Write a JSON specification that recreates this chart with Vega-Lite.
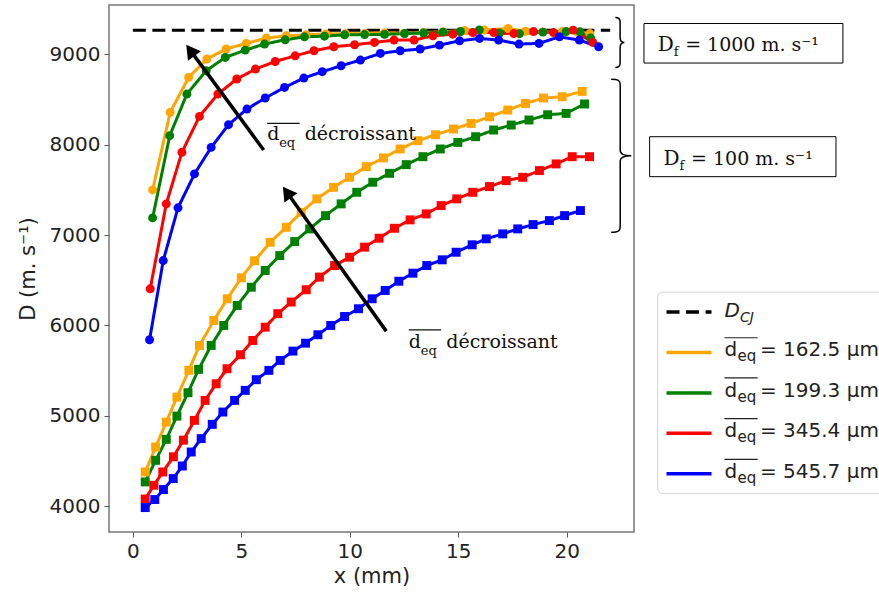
{
"$schema": "https://vega.github.io/schema/vega-lite/v6.json",
"width": 525, "height": 527,
"autosize": {"type": "none"},
"padding": {"left": 109, "top": 5, "right": 245, "bottom": 60},
"background": "white",
"config": {
  "view": {"stroke": "#777", "strokeWidth": 1.5},
  "axis": {"labelFont": "DejaVu Sans", "titleFont": "DejaVu Sans", "labelFontSize": 20, "titleFontSize": 21, "labelColor": "#222", "titleColor": "#222", "titleFontWeight": "normal", "gridColor": "#cccccc", "gridWidth": 1, "tickColor": "#555", "tickSize": 5, "domain": false, "labelPadding": 4}
},
"datasets": {
  "main": [
    {"s":"DCJ","f":"CJ","x":0,"D":9265},{"s":"DCJ","f":"CJ","x":22,"D":9265},
    {"s":"162.5","f":"1000","x":0.91,"D":7499},{"s":"162.5","f":"1000","x":1.72,"D":8357},{"s":"162.5","f":"1000","x":2.57,"D":8744},{"s":"162.5","f":"1000","x":3.41,"D":8947},{"s":"162.5","f":"1000","x":4.30,"D":9058},{"s":"162.5","f":"1000","x":5.23,"D":9120},{"s":"162.5","f":"1000","x":6.15,"D":9179},{"s":"162.5","f":"1000","x":7.07,"D":9204},{"s":"162.5","f":"1000","x":7.99,"D":9215},{"s":"162.5","f":"1000","x":8.90,"D":9225},{"s":"162.5","f":"1000","x":9.80,"D":9228},{"s":"162.5","f":"1000","x":10.70,"D":9232},{"s":"162.5","f":"1000","x":11.60,"D":9236},{"s":"162.5","f":"1000","x":12.50,"D":9232},{"s":"162.5","f":"1000","x":13.40,"D":9240},{"s":"162.5","f":"1000","x":14.30,"D":9250},{"s":"162.5","f":"1000","x":15.30,"D":9262},{"s":"162.5","f":"1000","x":16.20,"D":9268},{"s":"162.5","f":"1000","x":17.30,"D":9285},{"s":"162.5","f":"1000","x":18.10,"D":9255},{"s":"162.5","f":"1000","x":18.90,"D":9248},{"s":"162.5","f":"1000","x":19.80,"D":9252},{"s":"162.5","f":"1000","x":20.50,"D":9245},{"s":"162.5","f":"1000","x":21.06,"D":9229},
    {"s":"199.3","f":"1000","x":0.91,"D":7190},{"s":"199.3","f":"1000","x":1.70,"D":8099},{"s":"199.3","f":"1000","x":2.49,"D":8560},{"s":"199.3","f":"1000","x":3.38,"D":8818},{"s":"199.3","f":"1000","x":4.26,"D":8965},{"s":"199.3","f":"1000","x":5.18,"D":9046},{"s":"199.3","f":"1000","x":6.07,"D":9113},{"s":"199.3","f":"1000","x":7.02,"D":9160},{"s":"199.3","f":"1000","x":7.91,"D":9193},{"s":"199.3","f":"1000","x":8.83,"D":9200},{"s":"199.3","f":"1000","x":9.76,"D":9215},{"s":"199.3","f":"1000","x":10.68,"D":9218},{"s":"199.3","f":"1000","x":11.60,"D":9220},{"s":"199.3","f":"1000","x":12.52,"D":9229},{"s":"199.3","f":"1000","x":13.40,"D":9235},{"s":"199.3","f":"1000","x":14.30,"D":9245},{"s":"199.3","f":"1000","x":15.10,"D":9252},{"s":"199.3","f":"1000","x":15.97,"D":9270},{"s":"199.3","f":"1000","x":16.90,"D":9235},{"s":"199.3","f":"1000","x":17.82,"D":9228},{"s":"199.3","f":"1000","x":18.90,"D":9245},{"s":"199.3","f":"1000","x":19.97,"D":9251},{"s":"199.3","f":"1000","x":20.60,"D":9250},{"s":"199.3","f":"1000","x":21.10,"D":9180},
    {"s":"345.4","f":"1000","x":0.80,"D":6405},{"s":"345.4","f":"1000","x":1.54,"D":7345},{"s":"345.4","f":"1000","x":2.26,"D":7915},{"s":"345.4","f":"1000","x":3.07,"D":8313},{"s":"345.4","f":"1000","x":3.92,"D":8560},{"s":"345.4","f":"1000","x":4.79,"D":8726},{"s":"345.4","f":"1000","x":5.65,"D":8836},{"s":"345.4","f":"1000","x":6.56,"D":8920},{"s":"345.4","f":"1000","x":7.48,"D":8983},{"s":"345.4","f":"1000","x":8.35,"D":9039},{"s":"345.4","f":"1000","x":9.26,"D":9083},{"s":"345.4","f":"1000","x":10.22,"D":9105},{"s":"345.4","f":"1000","x":11.14,"D":9131},{"s":"345.4","f":"1000","x":12.04,"D":9157},{"s":"345.4","f":"1000","x":12.96,"D":9157},{"s":"345.4","f":"1000","x":13.83,"D":9204},{"s":"345.4","f":"1000","x":14.75,"D":9222},{"s":"345.4","f":"1000","x":15.67,"D":9240},{"s":"345.4","f":"1000","x":16.64,"D":9240},{"s":"345.4","f":"1000","x":17.56,"D":9229},{"s":"345.4","f":"1000","x":18.47,"D":9251},{"s":"345.4","f":"1000","x":19.39,"D":9240},{"s":"345.4","f":"1000","x":20.29,"D":9267},{"s":"345.4","f":"1000","x":21.20,"D":9131},
    {"s":"545.7","f":"1000","x":0.77,"D":5842},{"s":"545.7","f":"1000","x":1.40,"D":6718},{"s":"545.7","f":"1000","x":2.08,"D":7301},{"s":"545.7","f":"1000","x":2.84,"D":7676},{"s":"545.7","f":"1000","x":3.61,"D":7970},{"s":"545.7","f":"1000","x":4.41,"D":8221},{"s":"545.7","f":"1000","x":5.26,"D":8394},{"s":"545.7","f":"1000","x":6.10,"D":8516},{"s":"545.7","f":"1000","x":6.99,"D":8633},{"s":"545.7","f":"1000","x":7.88,"D":8737},{"s":"545.7","f":"1000","x":8.73,"D":8807},{"s":"545.7","f":"1000","x":9.60,"D":8873},{"s":"545.7","f":"1000","x":10.49,"D":8936},{"s":"545.7","f":"1000","x":11.41,"D":9009},{"s":"545.7","f":"1000","x":12.32,"D":9039},{"s":"545.7","f":"1000","x":13.24,"D":9058},{"s":"545.7","f":"1000","x":14.13,"D":9101},{"s":"545.7","f":"1000","x":15.06,"D":9149},{"s":"545.7","f":"1000","x":15.98,"D":9175},{"s":"545.7","f":"1000","x":16.86,"D":9157},{"s":"545.7","f":"1000","x":17.80,"D":9113},{"s":"545.7","f":"1000","x":18.72,"D":9120},{"s":"545.7","f":"1000","x":19.66,"D":9193},{"s":"545.7","f":"1000","x":20.58,"D":9157},{"s":"545.7","f":"1000","x":21.47,"D":9083},
    {"s":"162.5","f":"100","x":0.57,"D":4379},{"s":"162.5","f":"100","x":1.05,"D":4655},{"s":"162.5","f":"100","x":1.54,"D":4931},{"s":"162.5","f":"100","x":2.03,"D":5207},{"s":"162.5","f":"100","x":2.58,"D":5503},{"s":"162.5","f":"100","x":3.07,"D":5779},{"s":"162.5","f":"100","x":3.73,"D":6055},{"s":"162.5","f":"100","x":4.35,"D":6295},{"s":"162.5","f":"100","x":5.00,"D":6527},{"s":"162.5","f":"100","x":5.61,"D":6715},{"s":"162.5","f":"100","x":6.33,"D":6920},{"s":"162.5","f":"100","x":7.07,"D":7086},{"s":"162.5","f":"100","x":7.76,"D":7252},{"s":"162.5","f":"100","x":8.48,"D":7400},{"s":"162.5","f":"100","x":9.25,"D":7528},{"s":"162.5","f":"100","x":9.99,"D":7639},{"s":"162.5","f":"100","x":10.76,"D":7757},{"s":"162.5","f":"100","x":11.55,"D":7853},{"s":"162.5","f":"100","x":12.32,"D":7952},{"s":"162.5","f":"100","x":13.14,"D":8044},{"s":"162.5","f":"100","x":13.95,"D":8110},{"s":"162.5","f":"100","x":14.78,"D":8173},{"s":"162.5","f":"100","x":15.59,"D":8235},{"s":"162.5","f":"100","x":16.44,"D":8309},{"s":"162.5","f":"100","x":17.28,"D":8383},{"s":"162.5","f":"100","x":18.10,"D":8456},{"s":"162.5","f":"100","x":18.93,"D":8516},{"s":"162.5","f":"100","x":19.79,"D":8530},{"s":"162.5","f":"100","x":20.71,"D":8589},
    {"s":"199.3","f":"100","x":0.57,"D":4269},{"s":"199.3","f":"100","x":1.05,"D":4508},{"s":"199.3","f":"100","x":1.54,"D":4740},{"s":"199.3","f":"100","x":2.03,"D":4997},{"s":"199.3","f":"100","x":2.54,"D":5256},{"s":"199.3","f":"100","x":3.03,"D":5514},{"s":"199.3","f":"100","x":3.61,"D":5779},{"s":"199.3","f":"100","x":4.19,"D":6000},{"s":"199.3","f":"100","x":4.81,"D":6221},{"s":"199.3","f":"100","x":5.46,"D":6423},{"s":"199.3","f":"100","x":6.10,"D":6608},{"s":"199.3","f":"100","x":6.77,"D":6773},{"s":"199.3","f":"100","x":7.46,"D":6928},{"s":"199.3","f":"100","x":8.15,"D":7068},{"s":"199.3","f":"100","x":8.88,"D":7215},{"s":"199.3","f":"100","x":9.60,"D":7345},{"s":"199.3","f":"100","x":10.32,"D":7473},{"s":"199.3","f":"100","x":11.06,"D":7584},{"s":"199.3","f":"100","x":11.83,"D":7683},{"s":"199.3","f":"100","x":12.60,"D":7779},{"s":"199.3","f":"100","x":13.37,"D":7867},{"s":"199.3","f":"100","x":14.17,"D":7952},{"s":"199.3","f":"100","x":14.98,"D":8025},{"s":"199.3","f":"100","x":15.80,"D":8088},{"s":"199.3","f":"100","x":16.63,"D":8162},{"s":"199.3","f":"100","x":17.44,"D":8217},{"s":"199.3","f":"100","x":18.26,"D":8273},{"s":"199.3","f":"100","x":19.12,"D":8331},{"s":"199.3","f":"100","x":19.97,"D":8346},{"s":"199.3","f":"100","x":20.82,"D":8450},
    {"s":"345.4","f":"100","x":0.57,"D":4080},{"s":"345.4","f":"100","x":0.97,"D":4232},{"s":"345.4","f":"100","x":1.38,"D":4379},{"s":"345.4","f":"100","x":1.87,"D":4547},{"s":"345.4","f":"100","x":2.33,"D":4731},{"s":"345.4","f":"100","x":2.84,"D":4950},{"s":"345.4","f":"100","x":3.33,"D":5171},{"s":"345.4","f":"100","x":3.84,"D":5355},{"s":"345.4","f":"100","x":4.34,"D":5521},{"s":"345.4","f":"100","x":4.96,"D":5676},{"s":"345.4","f":"100","x":5.53,"D":5834},{"s":"345.4","f":"100","x":6.10,"D":5981},{"s":"345.4","f":"100","x":6.68,"D":6130},{"s":"345.4","f":"100","x":7.30,"D":6259},{"s":"345.4","f":"100","x":7.99,"D":6395},{"s":"345.4","f":"100","x":8.60,"D":6535},{"s":"345.4","f":"100","x":9.30,"D":6663},{"s":"345.4","f":"100","x":9.99,"D":6755},{"s":"345.4","f":"100","x":10.68,"D":6866},{"s":"345.4","f":"100","x":11.35,"D":6965},{"s":"345.4","f":"100","x":12.06,"D":7075},{"s":"345.4","f":"100","x":12.78,"D":7168},{"s":"345.4","f":"100","x":13.52,"D":7234},{"s":"345.4","f":"100","x":14.21,"D":7326},{"s":"345.4","f":"100","x":14.93,"D":7400},{"s":"345.4","f":"100","x":15.67,"D":7473},{"s":"345.4","f":"100","x":16.44,"D":7536},{"s":"345.4","f":"100","x":17.21,"D":7602},{"s":"345.4","f":"100","x":17.97,"D":7639},{"s":"345.4","f":"100","x":18.74,"D":7713},{"s":"345.4","f":"100","x":19.51,"D":7787},{"s":"345.4","f":"100","x":20.25,"D":7867},{"s":"345.4","f":"100","x":21.05,"D":7867},
    {"s":"545.7","f":"100","x":0.57,"D":3985},{"s":"545.7","f":"100","x":1.01,"D":4074},{"s":"545.7","f":"100","x":1.41,"D":4185},{"s":"545.7","f":"100","x":1.86,"D":4306},{"s":"545.7","f":"100","x":2.28,"D":4445},{"s":"545.7","f":"100","x":2.69,"D":4600},{"s":"545.7","f":"100","x":3.15,"D":4748},{"s":"545.7","f":"100","x":3.66,"D":4906},{"s":"545.7","f":"100","x":4.15,"D":5042},{"s":"545.7","f":"100","x":4.69,"D":5171},{"s":"545.7","f":"100","x":5.18,"D":5282},{"s":"545.7","f":"100","x":5.69,"D":5400},{"s":"545.7","f":"100","x":6.27,"D":5503},{"s":"545.7","f":"100","x":6.79,"D":5613},{"s":"545.7","f":"100","x":7.38,"D":5716},{"s":"545.7","f":"100","x":7.96,"D":5804},{"s":"545.7","f":"100","x":8.53,"D":5897},{"s":"545.7","f":"100","x":9.12,"D":6000},{"s":"545.7","f":"100","x":9.76,"D":6099},{"s":"545.7","f":"100","x":10.40,"D":6185},{"s":"545.7","f":"100","x":11.03,"D":6295},{"s":"545.7","f":"100","x":11.63,"D":6387},{"s":"545.7","f":"100","x":12.26,"D":6489},{"s":"545.7","f":"100","x":12.91,"D":6578},{"s":"545.7","f":"100","x":13.55,"D":6663},{"s":"545.7","f":"100","x":14.26,"D":6726},{"s":"545.7","f":"100","x":14.90,"D":6810},{"s":"545.7","f":"100","x":15.64,"D":6892},{"s":"545.7","f":"100","x":16.29,"D":6958},{"s":"545.7","f":"100","x":17.05,"D":7013},{"s":"545.7","f":"100","x":17.74,"D":7068},{"s":"545.7","f":"100","x":18.45,"D":7116},{"s":"545.7","f":"100","x":19.20,"D":7160},{"s":"545.7","f":"100","x":19.90,"D":7215},{"s":"545.7","f":"100","x":20.63,"D":7271}
  ]
},
"layer": [
  {"data": {"values": [{}]}, "mark": {"type": "rect", "fill": "white", "stroke": "#d5d5d5", "strokeWidth": 1, "cornerRadius": 5},
   "encoding": {"x": {"datum": 24.19}, "x2": {"datum": 35.5}, "y": {"datum": 6368}, "y2": {"datum": 4140}}},
  {
    "data": {"name": "main"},
    "mark": {"type": "line", "strokeWidth": 3},
    "encoding": {
      "x": {"field": "x", "type": "quantitative", "scale": {"domain": [-1.1, 23.1], "nice": false, "zero": false}, "axis": {"values": [0, 5, 10, 15, 20], "title": "x (mm)", "titlePadding": 4}},
      "y": {"field": "D", "type": "quantitative", "scale": {"domain": [3715, 9545], "nice": false, "zero": false}, "axis": {"values": [4000, 5000, 6000, 7000, 8000, 9000], "format": "d", "title": "D (m. s⁻¹)", "titlePadding": 11}},
      "color": {"field": "s", "type": "nominal", "scale": {"domain": ["DCJ", "162.5", "199.3", "345.4", "545.7"], "range": ["#000000", "#FFA500", "#008000", "#FF0000", "#0000FF"]},
        "legend": {"title": null, "orient": "none", "legendX": 549, "legendY": 286, "symbolType": "M-2.25,0L2.25,0", "symbolSize": 400, "symbolStrokeWidth": 3.5, "symbolOffset": 10, "labelOffset": 27, "labelFont": "DejaVu Sans", "labelFontSize": 18, "labelLimit": 400, "padding": 9, "rowPadding": 19.45, "strokeColor": "transparent", "fillColor": "transparent",
          "labelExpr": "''"}},
      "strokeDash": {"field": "s", "type": "nominal", "scale": {"domain": ["DCJ", "162.5", "199.3", "345.4", "545.7"], "range": [[13, 6.5], [1, 0], [1, 0], [1, 0], [1, 0]]}, "legend": {"title": null}},
      "detail": {"field": "f"}
    }
  },
  {
    "data": {"name": "main"},
    "transform": [{"filter": "datum.s !== 'DCJ'"}],
    "mark": {"type": "point", "filled": true, "opacity": 1, "size": 80},
    "encoding": {
      "x": {"field": "x", "type": "quantitative"},
      "y": {"field": "D", "type": "quantitative"},
      "color": {"field": "s", "type": "nominal", "legend": null},
      "shape": {"field": "f", "type": "nominal", "scale": {"domain": ["1000", "100"], "range": ["circle", "square"]}, "legend": null}
    }
  },
  {"data": {"values": [{}]}, "mark": {"type": "rule", "color": "black", "strokeWidth": 3.5},
   "encoding": {"x": {"datum": 6.03}, "y": {"datum": 7941}, "x2": {"datum": 2.65}, "y2": {"datum": 9043}}},
  {"data": {"values": [{}]}, "mark": {"type": "point", "shape": "triangle-up", "filled": true, "color": "black", "opacity": 1, "size": 256, "angle": 323.7},
   "encoding": {"x": {"datum": 2.65}, "y": {"datum": 9043}}},
  {"data": {"values": [{}]}, "mark": {"type": "rule", "color": "black", "strokeWidth": 3.5},
   "encoding": {"x": {"datum": 11.68}, "y": {"datum": 5937}, "x2": {"datum": 7.10}, "y2": {"datum": 7473}}},
  {"data": {"values": [{}]}, "mark": {"type": "point", "shape": "triangle-up", "filled": true, "color": "black", "opacity": 1, "size": 256, "angle": 324.5},
   "encoding": {"x": {"datum": 7.10}, "y": {"datum": 7473}}},
  {"data": {"values": [{}]}, "mark": {"type": "text", "text": "d", "font": "DejaVu Serif", "fontSize": 19, "align": "left", "baseline": "alphabetic", "color": "#111"},
   "encoding": {"x": {"datum": 6.19}, "y": {"datum": 8052}}},
  {"data": {"values": [{}]}, "mark": {"type": "text", "text": "eq", "font": "DejaVu Serif", "fontSize": 13, "align": "left", "baseline": "alphabetic", "dx": 12, "dy": 7, "color": "#111"},
   "encoding": {"x": {"datum": 6.19}, "y": {"datum": 8052}}},
  {"data": {"values": [{}]}, "mark": {"type": "text", "text": "décroissant", "font": "DejaVu Serif", "fontSize": 19, "align": "left", "baseline": "alphabetic", "dx": 37.5, "color": "#111"},
   "encoding": {"x": {"datum": 6.19}, "y": {"datum": 8052}}},
  {"data": {"values": [{}]}, "mark": {"type": "rule", "color": "#111", "strokeWidth": 1.2},
   "encoding": {"x": {"datum": 6.19}, "x2": {"datum": 7.69}, "y": {"datum": 8235}}},
  {"data": {"values": [{}]}, "mark": {"type": "text", "text": "d", "font": "DejaVu Serif", "fontSize": 19, "align": "left", "baseline": "alphabetic", "color": "#111"},
   "encoding": {"x": {"datum": 12.72}, "y": {"datum": 5754}}},
  {"data": {"values": [{}]}, "mark": {"type": "text", "text": "eq", "font": "DejaVu Serif", "fontSize": 13, "align": "left", "baseline": "alphabetic", "dx": 12, "dy": 7, "color": "#111"},
   "encoding": {"x": {"datum": 12.72}, "y": {"datum": 5754}}},
  {"data": {"values": [{}]}, "mark": {"type": "text", "text": "décroissant", "font": "DejaVu Serif", "fontSize": 19, "align": "left", "baseline": "alphabetic", "dx": 37.5, "color": "#111"},
   "encoding": {"x": {"datum": 12.72}, "y": {"datum": 5754}}},
  {"data": {"values": [{}]}, "mark": {"type": "rule", "color": "#111", "strokeWidth": 1.2},
   "encoding": {"x": {"datum": 12.72}, "x2": {"datum": 14.21}, "y": {"datum": 5952}}},
  {"data": {"values": [{}]}, "mark": {"type": "point", "shape": "M-0.19,-1C-0.06,-1,0,-0.96,0,-0.82L0,-0.2C0,-0.06,0.05,0,0.17,0C0.05,0,0,0.06,0,0.2L0,0.82C0,0.96,-0.06,1,-0.19,1", "filled": false, "color": "black", "opacity": 1, "strokeWidth": 1.5, "size": 2500},
   "encoding": {"x": {"datum": 22.46}, "y": {"datum": 9130}}},
  {"data": {"values": [{}]}, "mark": {"type": "point", "shape": "M-0.131,-1C-0.04,-1,-0.013,-0.985,-0.013,-0.93L-0.013,-0.07C-0.013,-0.02,0.03,0,0.131,0C0.03,0,-0.013,0.02,-0.013,0.07L-0.013,0.93C-0.013,0.985,-0.04,1,-0.131,1", "filled": false, "color": "black", "opacity": 1, "strokeWidth": 1.5, "size": 23409},
   "encoding": {"x": {"datum": 22.51}, "y": {"datum": 7878}}},
  {"data": {"values": [{}]}, "mark": {"type": "rect", "fill": "white", "stroke": "black", "strokeWidth": 1},
   "encoding": {"x": {"datum": 23.56}, "x2": {"datum": 32.73}, "y": {"datum": 9340}, "y2": {"datum": 8903}}},
  {"data": {"values": [{}]}, "mark": {"type": "rect", "fill": "white", "stroke": "black", "strokeWidth": 1},
   "encoding": {"x": {"datum": 23.82}, "x2": {"datum": 32.41}, "y": {"datum": 8088}, "y2": {"datum": 7646}}},
  {"data": {"values": [{}]}, "mark": {"type": "text", "text": "D", "font": "DejaVu Serif", "fontSize": 20, "align": "left", "baseline": "alphabetic", "color": "#111"},
   "encoding": {"x": {"datum": 24.19}, "y": {"datum": 9031}}},
  {"data": {"values": [{}]}, "mark": {"type": "text", "text": "f", "font": "DejaVu Serif", "fontSize": 13, "align": "left", "baseline": "alphabetic", "dx": 16, "dy": 5, "color": "#111"},
   "encoding": {"x": {"datum": 24.19}, "y": {"datum": 9031}}},
  {"data": {"values": [{}]}, "mark": {"type": "text", "text": "= 1000 m. s⁻¹", "font": "DejaVu Serif", "fontSize": 19, "align": "left", "baseline": "alphabetic", "dx": 27.5, "color": "#111"},
   "encoding": {"x": {"datum": 24.19}, "y": {"datum": 9031}}},
  {"data": {"values": [{}]}, "mark": {"type": "text", "text": "D", "font": "DejaVu Serif", "fontSize": 20, "align": "left", "baseline": "alphabetic", "color": "#111"},
   "encoding": {"x": {"datum": 24.46}, "y": {"datum": 7779}}},
  {"data": {"values": [{}]}, "mark": {"type": "text", "text": "f", "font": "DejaVu Serif", "fontSize": 13, "align": "left", "baseline": "alphabetic", "dx": 16, "dy": 5, "color": "#111"},
   "encoding": {"x": {"datum": 24.46}, "y": {"datum": 7779}}},
  {"data": {"values": [{}]}, "mark": {"type": "text", "text": "= 100 m. s⁻¹", "font": "DejaVu Serif", "fontSize": 19, "align": "left", "baseline": "alphabetic", "dx": 27.5, "color": "#111"},
   "encoding": {"x": {"datum": 24.46}, "y": {"datum": 7779}}},
  {"data": {"values": [{}]}, "mark": {"type": "text", "text": "D", "font": "DejaVu Sans", "fontSize": 20, "fontStyle": "italic", "align": "left", "baseline": "alphabetic", "color": "#222"},
   "encoding": {"x": {"datum": 27.27}, "y": {"datum": 6092}}},
  {"data": {"values": [{}]}, "mark": {"type": "text", "text": "CJ", "font": "DejaVu Sans", "fontSize": 14, "fontStyle": "italic", "align": "left", "baseline": "alphabetic", "dx": 15.5, "dy": 5, "color": "#222"},
   "encoding": {"x": {"datum": 27.27}, "y": {"datum": 6092}}},
  {"data": {"values": [{}]}, "mark": {"type": "text", "text": "d", "font": "DejaVu Sans", "fontSize": 20, "align": "left", "baseline": "alphabetic", "color": "#222"},
   "encoding": {"x": {"datum": 27.27}, "y": {"datum": 5657}}},
  {"data": {"values": [{}]}, "mark": {"type": "text", "text": "eq", "font": "DejaVu Sans", "fontSize": 15, "align": "left", "baseline": "alphabetic", "dx": 13, "dy": 5, "color": "#222"},
   "encoding": {"x": {"datum": 27.27}, "y": {"datum": 5657}}},
  {"data": {"values": [{}]}, "mark": {"type": "text", "text": "= 162.5 µm", "font": "DejaVu Sans", "fontSize": 20, "align": "left", "baseline": "alphabetic", "dx": 35.5, "color": "#222"},
   "encoding": {"x": {"datum": 27.27}, "y": {"datum": 5657}}},
  {"data": {"values": [{}]}, "mark": {"type": "rule", "color": "#222", "strokeWidth": 1.2},
   "encoding": {"x": {"datum": 27.27}, "x2": {"datum": 28.80}, "y": {"datum": 5864}}},
  {"data": {"values": [{}]}, "mark": {"type": "text", "text": "d", "font": "DejaVu Sans", "fontSize": 20, "align": "left", "baseline": "alphabetic", "color": "#222"},
   "encoding": {"x": {"datum": 27.27}, "y": {"datum": 5212}}},
  {"data": {"values": [{}]}, "mark": {"type": "text", "text": "eq", "font": "DejaVu Sans", "fontSize": 15, "align": "left", "baseline": "alphabetic", "dx": 13, "dy": 5, "color": "#222"},
   "encoding": {"x": {"datum": 27.27}, "y": {"datum": 5212}}},
  {"data": {"values": [{}]}, "mark": {"type": "text", "text": "= 199.3 µm", "font": "DejaVu Sans", "fontSize": 20, "align": "left", "baseline": "alphabetic", "dx": 35.5, "color": "#222"},
   "encoding": {"x": {"datum": 27.27}, "y": {"datum": 5212}}},
  {"data": {"values": [{}]}, "mark": {"type": "rule", "color": "#222", "strokeWidth": 1.2},
   "encoding": {"x": {"datum": 27.27}, "x2": {"datum": 28.80}, "y": {"datum": 5419}}},
  {"data": {"values": [{}]}, "mark": {"type": "text", "text": "d", "font": "DejaVu Sans", "fontSize": 20, "align": "left", "baseline": "alphabetic", "color": "#222"},
   "encoding": {"x": {"datum": 27.27}, "y": {"datum": 4762}}},
  {"data": {"values": [{}]}, "mark": {"type": "text", "text": "eq", "font": "DejaVu Sans", "fontSize": 15, "align": "left", "baseline": "alphabetic", "dx": 13, "dy": 5, "color": "#222"},
   "encoding": {"x": {"datum": 27.27}, "y": {"datum": 4762}}},
  {"data": {"values": [{}]}, "mark": {"type": "text", "text": "= 345.4 µm", "font": "DejaVu Sans", "fontSize": 20, "align": "left", "baseline": "alphabetic", "dx": 35.5, "color": "#222"},
   "encoding": {"x": {"datum": 27.27}, "y": {"datum": 4762}}},
  {"data": {"values": [{}]}, "mark": {"type": "rule", "color": "#222", "strokeWidth": 1.2},
   "encoding": {"x": {"datum": 27.27}, "x2": {"datum": 28.80}, "y": {"datum": 4969}}},
  {"data": {"values": [{}]}, "mark": {"type": "text", "text": "d", "font": "DejaVu Sans", "fontSize": 20, "align": "left", "baseline": "alphabetic", "color": "#222"},
   "encoding": {"x": {"datum": 27.27}, "y": {"datum": 4313}}},
  {"data": {"values": [{}]}, "mark": {"type": "text", "text": "eq", "font": "DejaVu Sans", "fontSize": 15, "align": "left", "baseline": "alphabetic", "dx": 13, "dy": 5, "color": "#222"},
   "encoding": {"x": {"datum": 27.27}, "y": {"datum": 4313}}},
  {"data": {"values": [{}]}, "mark": {"type": "text", "text": "= 545.7 µm", "font": "DejaVu Sans", "fontSize": 20, "align": "left", "baseline": "alphabetic", "dx": 35.5, "color": "#222"},
   "encoding": {"x": {"datum": 27.27}, "y": {"datum": 4313}}},
  {"data": {"values": [{}]}, "mark": {"type": "rule", "color": "#222", "strokeWidth": 1.2},
   "encoding": {"x": {"datum": 27.27}, "x2": {"datum": 28.80}, "y": {"datum": 4519}}}
]
}
